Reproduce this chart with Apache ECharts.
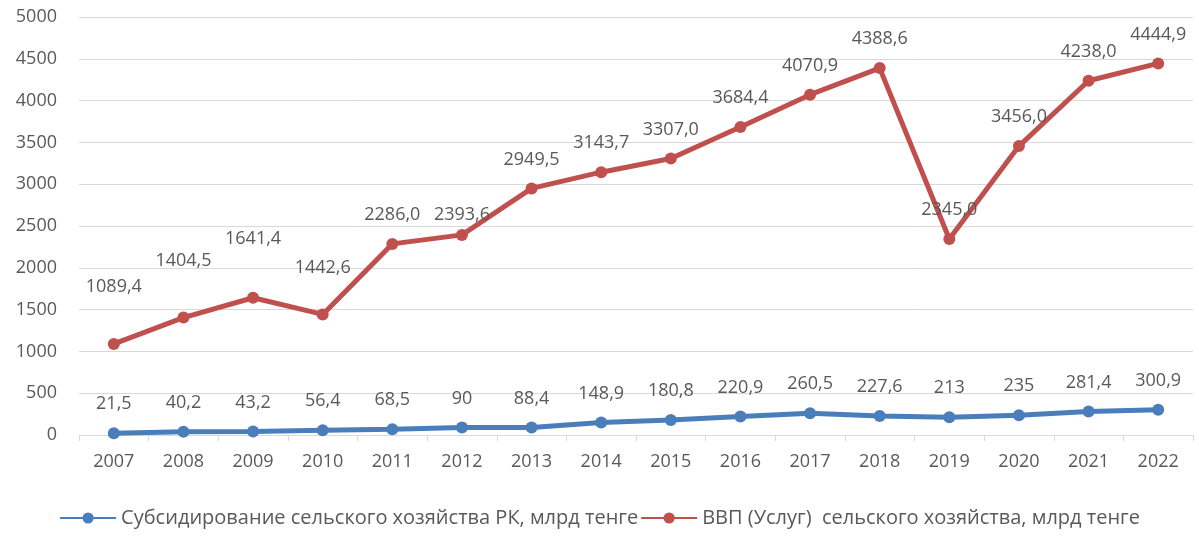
<!DOCTYPE html>
<html>
<head>
<meta charset="utf-8">
<script src="https://cdn.jsdelivr.net/npm/echarts@6/dist/echarts.min.js"></script>
<style>
    html, body { margin: 0; padding: 0; background: #fff; }
    #chart { width: 1199px; height: 539px; }
</style>
</head>
<body>
<div id="chart"></div>
<script>
    var years = ['2007', '2008', '2009', '2010', '2011', '2012', '2013', '2014',
        '2015', '2016', '2017', '2018', '2019', '2020', '2021', '2022'];
    var subsidies = [21.5, 40.2, 43.2, 56.4, 68.5, 90, 88.4, 148.9,
        180.8, 220.9, 260.5, 227.6, 213, 235, 281.4, 300.9];
    var gdp = [1089.4, 1404.5, 1641.4, 1442.6, 2286.0, 2393.6, 2949.5, 3143.7,
        3307.0, 3684.4, 4070.9, 4388.6, 2345.0, 3456.0, 4238.0, 4444.9];
    var seriesNames = ['Субсидирование сельского хозяйства РК, млрд тенге',
        'ВВП (Услуг)  сельского хозяйства, млрд тенге'];

    // extra vertical shift of some red labels (Excel placed them higher)
    var gdpLabelShift = [-28, -28, -30, -18, 0, 9, 0, 0, 0, 0, 0, 0, 0, 0, 0, 0];

    var font = 'Open Sans';
    var textColor = '#595959';

    var chart = echarts.init(document.getElementById('chart'));
    var option = {
        animation: false,
        textStyle: { fontFamily: font },
        grid: { left: 79, right: 6, top: 17, bottom: 104 },
        legend: {
            bottom: 6,
            itemWidth: 56,
            itemHeight: 14,
            itemGap: 2,
            textStyle: { color: textColor, fontSize: 20, fontFamily: font },
            data: seriesNames
        },
        xAxis: {
            type: 'category',
            data: years,
            axisLine: { lineStyle: { color: '#d9d9d9' } },
            axisTick: { show: true, length: 6, lineStyle: { color: '#d9d9d9' } },
            axisLabel: { color: textColor, fontSize: 18, margin: 18 }
        },
        yAxis: {
            type: 'value',
            min: 0,
            max: 5000,
            interval: 500,
            axisLabel: {
                color: textColor, fontSize: 18, margin: 22,
                formatter: function (v) { return String(v); }
            },
            splitLine: { lineStyle: { color: '#d9d9d9' } }
        },
        series: [
            {
                name: seriesNames[0],
                type: 'line',
                data: subsidies,
                symbol: 'circle',
                symbolSize: 12,
                color: '#4a7ebb',
                lineStyle: { width: 5 },
                label: {
                    show: true,
                    position: 'top',
                    distance: 14,
                    color: textColor,
                    fontSize: 18,
                    formatter: function (p) { return String(p.value).replace('.', ','); }
                }
            },
            {
                name: seriesNames[1],
                type: 'line',
                data: gdp.map(function (v, i) {
                    return { value: v, label: { offset: [0, gdpLabelShift[i]] } };
                }),
                symbol: 'circle',
                symbolSize: 12,
                color: '#c0504d',
                lineStyle: { width: 5 },
                label: {
                    show: true,
                    position: 'top',
                    distance: 14,
                    color: textColor,
                    fontSize: 18,
                    formatter: function (p) { return p.value.toFixed(1).replace('.', ','); }
                }
            }
        ]
    };
    chart.setOption(option);
</script>
</body>
</html>
